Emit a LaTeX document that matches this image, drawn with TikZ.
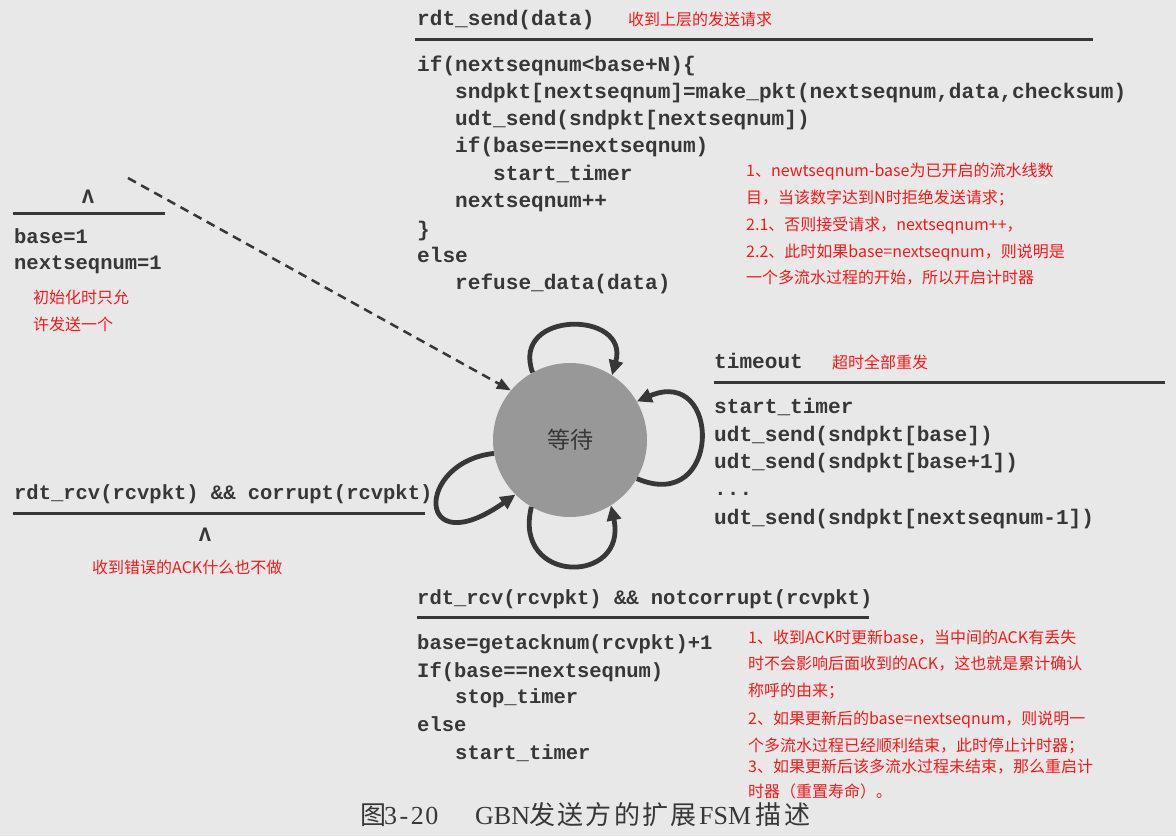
\documentclass[tikz,border=0pt]{standalone}
\usepackage{fontspec}
\usetikzlibrary{arrows.meta}
\newfontfamily\monof{Liberation Mono}
\newfontfamily\cjkf{Noto Sans CJK SC}
\newfontfamily\serf{Liberation Serif}
\definecolor{bg}{RGB}{232,232,232}
\definecolor{ink}{RGB}{55,55,55}
\definecolor{annred}{RGB}{250,25,25}
\definecolor{statefill}{RGB}{152,152,152}
\begin{document}
\begin{tikzpicture}[x=1pt,y=-1pt,
  codeA/.style={font=\monof\bfseries\fontsize{21.1}{25}\selectfont, text=ink, anchor=base west, inner sep=0pt},
  codeB/.style={font=\monof\bfseries\fontsize{20.5}{25}\selectfont, text=ink, anchor=base west, inner sep=0pt},
  note/.style={font=\cjkf\fontsize{16}{20}\selectfont, text=annred, anchor=base west, inner sep=0pt},
  rulebar/.style={line width=3pt, draw=ink},
  selfloop/.style={line width=4.8pt, draw=ink, -{Triangle[length=15pt,width=14pt]}},
  initarrow/.style={line width=2.5pt, draw=ink, dash pattern=on 9pt off 6pt, -{Triangle[length=14pt,width=11pt]}}
  ]
\useasboundingbox (0,0) rectangle (1176,836);
\fill[bg] (0,0) rectangle (1176,836);

% state
\node[circle, fill=statefill, minimum size=154pt, inner sep=0pt, text=ink,
      font=\cjkf\fontsize{23}{23}\selectfont] (wait) at (570,440) {等待};

% self loops
\draw[selfloop] (wait.119) .. controls (510,310) and (630,310) .. (wait.57);
\draw[selfloop] (wait.-30) .. controls (722,515) and (722,365) .. (wait.30);
\draw[selfloop] (wait.-120) .. controls (512,585) and (628,585) .. (wait.-58);
\draw[selfloop] (wait.190) .. controls (415,462) and (415,565) .. (wait.225);

% initial transition
\coordinate (init) at (128,178);
\draw[initarrow] (init) -- (wait.140);

% top block: rdt_send
\node[codeA] (s0) at (417,25) {rdt\_send(data)};
\node[note] (n0) at (628,25) {收到上层的发送请求};
\draw[rulebar] (415,39) -- (1093,39);
\node[codeA] (s1) at (417,71) {if(nextseqnum<base+N)\{};
\node[codeA] (s2) at (455,98.3) {sndpkt[nextseqnum]=make\_pkt(nextseqnum,data,checksum)};
\node[codeA] (s3) at (455,125.6) {udt\_send(sndpkt[nextseqnum])};
\node[codeA] (s4) at (455,152.9) {if(base==nextseqnum)};
\node[codeA] (s5) at (493,180.2) {start\_timer};
\node[codeA] (s6) at (455,207.5) {nextseqnum++};
\node[codeA] (s7) at (417,236.5) {\}};
\node[codeA] (s8) at (417,262.1) {else};
\node[codeA] (s9) at (455,289.4) {refuse\_data(data)};

\node[note] (n1) at (746,176) {1、newtseqnum-base为已开启的流水线数};
\node[note] (n2) at (746,203) {目，当该数字达到N时拒绝发送请求；};
\node[note] (n3) at (746,230) {2.1、否则接受请求，nextseqnum++，};
\node[note] (n4) at (746,257) {2.2、此时如果base=nextseqnum，则说明是};
\node[note] (n5) at (746,283) {一个多流水过程的开始，所以开启计时器};

% initial block
\node[codeB, anchor=base] (i0) at (88,203) {Λ};
\draw[rulebar] (13,213) -- (165,213);
\node[codeB] (i1) at (14,243) {base=1};
\node[codeB] (i2) at (14,269) {nextseqnum=1};
\node[note] (n6) at (33,303) {初始化时只允};
\node[note] (n7) at (33,330) {许发送一个};

% corrupt block
\node[codeB] (c0) at (14,499) {rdt\_rcv(rcvpkt) \&\& corrupt(rcvpkt)};
\draw[rulebar] (13,513) -- (425,513);
\node[codeB, anchor=base] (c1) at (205,541) {Λ};
\node[note] (n8) at (92,573) {收到错误的ACK什么也不做};

% timeout block
\node[codeA] (t0) at (714,368) {timeout};
\node[note] (n9) at (832,368) {超时全部重发};
\draw[rulebar] (714,382) -- (1165,382);
\node[codeA] (t1) at (714,413) {start\_timer};
\node[codeA] (t2) at (714,441) {udt\_send(sndpkt[base])};
\node[codeA] (t3) at (714,468) {udt\_send(sndpkt[base+1])};
\node[codeA] (t4) at (714,495) {...};
\node[codeA] (t5) at (714,524) {udt\_send(sndpkt[nextseqnum-1])};

% notcorrupt block
\node[codeB] (a0) at (417,604) {rdt\_rcv(rcvpkt) \&\& notcorrupt(rcvpkt)};
\draw[rulebar] (417,617) -- (869,617);
\node[codeB] (a1) at (417,649) {base=getacknum(rcvpkt)+1};
\node[codeB] (a2) at (417,677) {If(base==nextseqnum)};
\node[codeB] (a3) at (455,703) {stop\_timer};
\node[codeB] (a4) at (417,731) {else};
\node[codeB] (a5) at (455,759) {start\_timer};

\node[note] (m1) at (748,643) {1、收到ACK时更新base，当中间的ACK有丢失};
\node[note] (m2) at (748,669) {时不会影响后面收到的ACK，这也就是累计确认};
\node[note] (m3) at (748,696) {称呼的由来；};
\node[note] (m4) at (748,724) {2、如果更新后的base=nextseqnum，则说明一};
\node[note] (m5) at (748,751) {个多流水过程已经顺利结束，此时停止计时器；};
\node[note] (m6) at (748,772) {3、如果更新后该多流水过程未结束，那么重启计};
\node[note] (m7) at (748,797) {时器（重置寿命）。};

% caption
\node[anchor=base west, inner sep=0pt, text=ink, font=\serf\fontsize{26}{26}\selectfont] (cap) at (360,824) {\makebox[24pt][l]{\cjkf 图}\makebox[91pt][l]{3\hspace{2.5pt}-\hspace{2.5pt}2\hspace{1.5pt}0}\makebox[54pt][l]{GBN}\makebox[170pt][l]{\cjkf 发\hspace{2.3pt}送\hspace{2.3pt}方\hspace{2.3pt}的\hspace{2.3pt}扩\hspace{2.3pt}展}\makebox[56pt][l]{FSM}{\cjkf 描\hspace{3pt}述}};
\end{tikzpicture}
\end{document}
